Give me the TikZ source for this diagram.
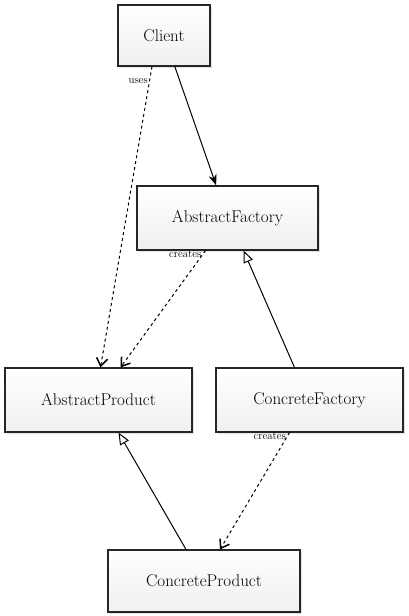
\documentclass[tikz,border=0pt]{standalone}
\usepackage{tikz}
\usetikzlibrary{arrows.meta,shadows}

\begin{document}
\begin{tikzpicture}[x=1pt, y=1pt]
	\tikzstyle{cls} = [draw=black!85, line width=1.1pt, top color=white, bottom color=gray!12,
		drop shadow={shadow xshift=2pt, shadow yshift=-2pt, fill=gray!45},
		font=\fontsize{17}{19}\selectfont, inner sep=0pt]
	\tikzstyle{lbl} = [font=\fontsize{11}{12}\selectfont, inner sep=1pt]
	\useasboundingbox (0,0) rectangle (408,-616);
	\node [cls, minimum width=92, minimum height=61] (client) at (164, -35.5) {Client};
	\node [cls, minimum width=181, minimum height=64] (afactory) at (227.5, -218) {AbstractFactory};
	\node [cls, minimum width=187, minimum height=64] (aproduct) at (98.5, -400) {AbstractProduct};
	\node [cls, minimum width=187, minimum height=64] (cfactory) at (309.5, -400) {ConcreteFactory};
	\node [cls, minimum width=192, minimum height=62] (cproduct) at (204, -581) {ConcreteProduct};
	\draw [-{Stealth[length=11pt, width=8pt]}, line width=1pt] (client)--(afactory);
	\draw [-{Straight Barb[length=8pt, width=11pt, line width=1.5pt]}, dashed, line width=1pt] ([xshift=-12pt]client.south)--([xshift=2pt]aproduct.north)
		node [lbl, pos=0.05, left] {uses};
	\draw [-{Straight Barb[length=8pt, width=11pt, line width=1.5pt]}, dashed, line width=1pt] ([xshift=-22pt]afactory.south)--([xshift=22pt]aproduct.north)
		node [lbl, pos=0.03, left] {creates};
	\draw [-{Triangle[open, length=12pt, width=10pt]}, line width=1pt] ([xshift=-15pt]cfactory.north)--([xshift=16pt]afactory.south);
	\draw [-{Straight Barb[length=8pt, width=11pt, line width=1.5pt]}, dashed, line width=1pt] ([xshift=-20pt]cfactory.south)--([xshift=16pt]cproduct.north)
		node [lbl, pos=0.03, left] {creates};
	\draw [-{Triangle[open, length=12pt, width=10pt]}, line width=1pt] ([xshift=-18pt]cproduct.north)--([xshift=20pt]aproduct.south);
\end{tikzpicture}
\end{document}
